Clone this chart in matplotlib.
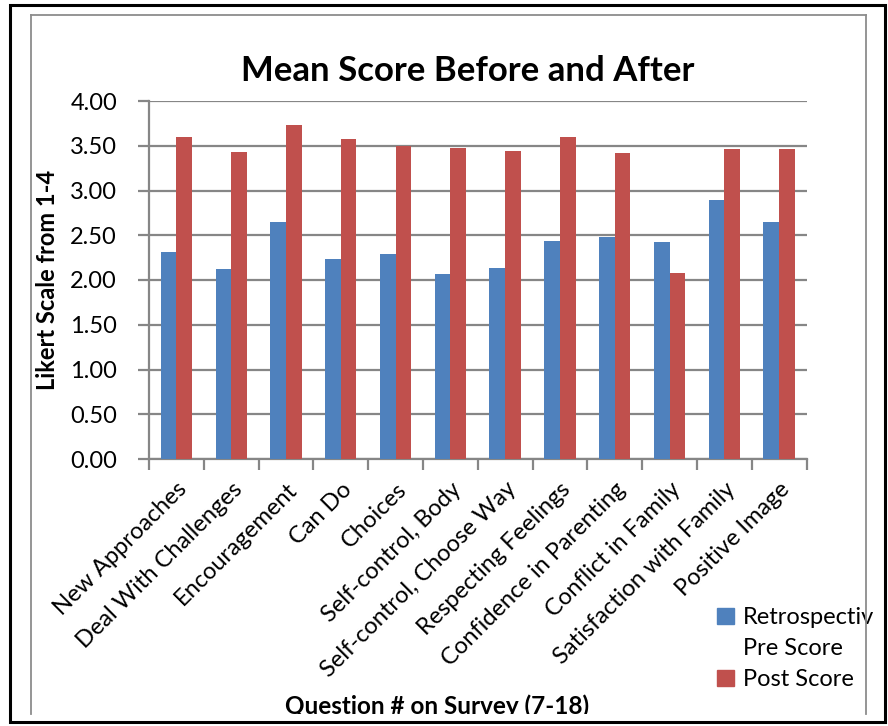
import numpy as np
import matplotlib
matplotlib.use("Agg")
import matplotlib.pyplot as plt
from matplotlib.patches import Rectangle, Patch
from matplotlib.lines import Line2D

### data
questions = ["New Approaches", "Deal With Challenges", "Encouragement", "Can Do",
             "Choices", "Self-control, Body", "Self-control, Choose Way",
             "Respecting Feelings", "Confidence in Parenting", "Conflict in Family",
             "Satisfaction with Family", "Positive Image"]
pre_score = [2.31, 2.12, 2.65, 2.24, 2.29, 2.07, 2.13, 2.44, 2.48, 2.42, 2.89, 2.65]
post_score = [3.60, 3.43, 3.73, 3.58, 3.50, 3.47, 3.44, 3.60, 3.42, 2.08, 3.46, 3.46]
series_names = ["Retrospectiv\nPre Score", "Post Score"]
yticks = [0, 0.5, 1.0, 1.5, 2.0, 2.5, 3.0, 3.5, 4.0]

plt.rcParams['font.family'] = ['Lato', 'DejaVu Sans']

W, H = 888, 726
fig = plt.figure(figsize=(W / 100, H / 100), dpi=100)

# frames (outer black, inner grey)
fig.add_artist(Rectangle((9.5 / W, 1 - 722 / H), 875 / W, 717 / H, transform=fig.transFigure,
                         fill=False, ec="black", lw=2.2))
for xs, ys in [([31, 31], [15, 714]), ([31, 866], [15, 15]), ([866, 866], [15, 714])]:
    fig.add_artist(Line2D([x / W for x in xs], [1 - y / H for y in ys],
                          transform=fig.transFigure, color="#8c8c8c", lw=1.3))

ax = fig.add_axes([149 / W, 1 - 459 / H, (806.5 - 149) / W, (459 - 101) / H])

blue = "#4f81bd"
red = "#c0504d"
x = np.arange(len(questions))
bw = 1 / 3.5
ax.bar(x - bw / 2, pre_score, bw, color=blue, label=series_names[0], zorder=3)
ax.bar(x + bw / 2, post_score, bw, color=red, label=series_names[1], zorder=3)

ax.set_xlim(-0.5, len(questions) - 0.5)
ax.set_ylim(0, 4)
ax.set_yticks(yticks)
ax.set_yticklabels([f"{v:.2f}" for v in yticks], fontsize=17)
ax.yaxis.grid(True, color="#868686", lw=1.6, zorder=0)
ax.set_axisbelow(True)

ax.set_xticks(np.arange(len(questions) + 1) - 0.5, minor=False)
ax.set_xticklabels([])
ax.set_xticks(x, minor=True)
ax.set_xticklabels(questions, minor=True, rotation=45, ha="right",
                   rotation_mode="anchor", fontsize=17)
ax.tick_params(axis="x", which="minor", length=0, pad=14)
ax.tick_params(axis="x", which="major", length=8, width=1.6, color="#868686")
ax.tick_params(axis="y", length=8, width=1.6, color="#868686", pad=15)

for s in ["top", "right"]:
    ax.spines[s].set_visible(False)
for s in ["left", "bottom"]:
    ax.spines[s].set_color("#868686")
    ax.spines[s].set_linewidth(1.6)

fig.text(468 / W, 1 - 71 / H, "Mean Score Before and After", ha="center", va="center",
         fontsize=25, fontweight="bold")
ax.set_ylabel("Likert Scale from 1-4", fontsize=17, fontweight="bold", labelpad=8)

clip = Rectangle((0, 1 - 714 / H), 1, 1, transform=fig.transFigure, visible=False)
fig.add_artist(clip)
xl = fig.text(437 / W, 1 - 706 / H, "Question # on Survey (7-18)", ha="center", va="center",
              fontsize=17.5, fontweight="bold")
xl.set_clip_path(clip)

# legend: the wrapped first label gets its own row so the swatch sits on line one
first, second = series_names[0].split("\n")
handles = [Patch(color=blue), Patch(color="none"), Patch(color=red)]
labels = [first, second, series_names[1]]
ax.legend(handles, labels, loc="upper left", bbox_to_anchor=(696 / W, 1 - 586 / H),
          bbox_transform=fig.transFigure, frameon=False, fontsize=17,
          handlelength=0.7, handleheight=0.7, handletextpad=0.4, labelspacing=0.42)

fig.savefig("out.png", dpi=100)
